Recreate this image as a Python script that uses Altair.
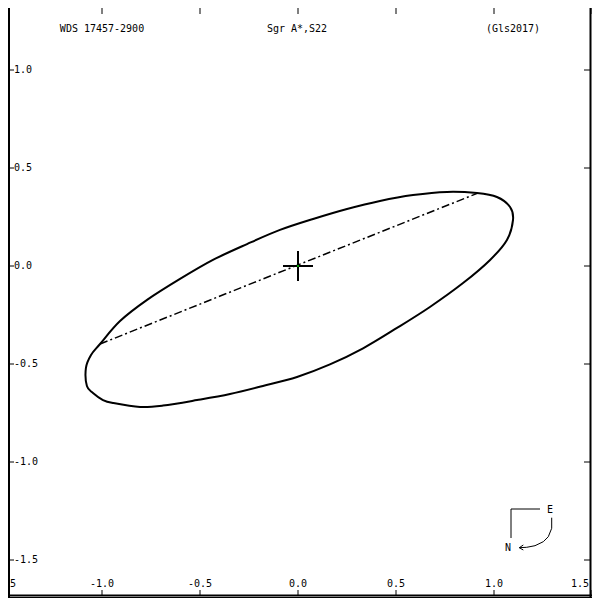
import altair as alt
import pandas as pd

# ---- data ----
orbit_x = [-1.010, -1.056, -1.082, -1.077, -1.046, -0.995, -0.944, -0.806, -0.689, -0.515,
           -0.347, -0.179, -0.005, 0.163, 0.332, 0.505, 0.673, 0.842, 0.980, 1.066,
           1.097, 1.082, 1.015, 0.913, 0.760, 0.587, 0.418, 0.250, 0.077, -0.092,
           -0.260, -0.434, -0.602, -0.770, -0.908]
orbit_y = [-0.398, -0.454, -0.520, -0.612, -0.648, -0.684, -0.699, -0.719, -0.712, -0.684,
           -0.653, -0.612, -0.566, -0.502, -0.420, -0.316, -0.209, -0.087, 0.031, 0.133,
           0.235, 0.301, 0.352, 0.372, 0.378, 0.362, 0.332, 0.291, 0.240, 0.184,
           0.112, 0.031, -0.066, -0.173, -0.281]
apsis_x = [-1.010, 0.918]
apsis_y = [-0.398, 0.372]
primary_x = [0.0]
primary_y = [0.0]
x_ticks = [-1.5, -1.0, -0.5, 0.0, 0.5, 1.0, 1.5]
x_tick_labels = ["-1.5", "-1.0", "-0.5", "0.0", "0.5", "1.0", "1.5"]
y_ticks = [-1.5, -1.0, -0.5, 0.0, 0.5, 1.0]
y_tick_labels = ["-1.5", "-1.0", "-0.5", "0.0", "0.5", "1.0"]
title_left = "WDS 17457-2900"
title_mid = "Sgr A*,S22"
title_right = "(Gls2017)"

FONT = "DejaVu Sans Mono"
W = 584
H = 590
# 196 px per arcsec, origin at page (298, 266); chart origin at page (8, 8)
xs = alt.Scale(domain=[(8 - 298) / 196, (8 + W - 298) / 196], nice=False, zero=False)
ys = alt.Scale(domain=[(266 - 8 - H) / 196, (266 - 8) / 196], nice=False, zero=False)

orbit_df = pd.DataFrame({"x": orbit_x, "y": orbit_y, "i": range(len(orbit_x))})
apsis_df = pd.DataFrame({"x": apsis_x, "y": apsis_y, "i": range(len(apsis_x))})
prim_df = pd.DataFrame({"x": primary_x, "y": primary_y})
xt_df = pd.DataFrame({"t": x_ticks, "lab": x_tick_labels})
yt_df = pd.DataFrame({"t": y_ticks, "lab": y_tick_labels})
one = pd.DataFrame({"d": [0]})

X = lambda f: alt.X(f, scale=xs, axis=None)
Y = lambda f: alt.Y(f, scale=ys, axis=None)

orbit = alt.Chart(orbit_df).mark_line(color="black", strokeWidth=2,
                                      interpolate="cardinal-closed").encode(
    x=X("x:Q"), y=Y("y:Q"), order="i:Q")
apsis = alt.Chart(apsis_df).mark_line(color="black", strokeWidth=1.5,
                                      strokeDash=[8, 3, 2, 3]).encode(
    x=X("x:Q"), y=Y("y:Q"), order="i:Q")
cross = alt.Chart(prim_df).mark_point(shape="M-1,0L1,0M0,-1L0,1", size=900,
                                      strokeWidth=2, color="black", filled=False,
                                      opacity=1).encode(x=X("x:Q"), y=Y("y:Q"))
dot = alt.Chart(prim_df).mark_point(shape="circle", size=5, color="#00c000",
                                    filled=True, opacity=1).encode(x=X("x:Q"), y=Y("y:Q"))

top_ticks = alt.Chart(xt_df).mark_rule(color="black", strokeWidth=1).encode(
    x=X("t:Q"), y=alt.value(0), y2=alt.value(6))
bot_ticks = alt.Chart(xt_df).mark_rule(color="black", strokeWidth=1).encode(
    x=X("t:Q"), y=alt.value(582), y2=alt.value(587))
x_labels = alt.Chart(xt_df).transform_filter("datum.t < 1.4").mark_text(
    font=FONT, fontSize=10, color="black", baseline="alphabetic", align="center").encode(
    x=X("t:Q"), y=alt.value(579), text="lab:N")
x_label_last = alt.Chart(xt_df).transform_filter("datum.t > 1.4").mark_text(
    font=FONT, fontSize=10, color="black", baseline="alphabetic", align="right",
    dx=-3).encode(x=X("t:Q"), y=alt.value(579), text="lab:N")
left_ticks = alt.Chart(yt_df).mark_rule(color="black", strokeWidth=1).encode(
    y=Y("t:Q"), x=alt.value(0), x2=alt.value(6))
right_ticks = alt.Chart(yt_df).mark_rule(color="black", strokeWidth=1).encode(
    y=Y("t:Q"), x=alt.value(W - 8), x2=alt.value(W - 2))
y_labels = alt.Chart(yt_df).mark_text(font=FONT, fontSize=10, color="black",
                                      baseline="middle", align="left").encode(
    y=Y("t:Q"), x=alt.value(6), text="lab:N")

frame_left = alt.Chart(one).mark_rule(color="black", strokeWidth=2).encode(
    x=alt.value(1), y=alt.value(0), y2=alt.value(H))
frame_right = alt.Chart(one).mark_rule(color="black", strokeWidth=2).encode(
    x=alt.value(W - 1.5), y=alt.value(0), y2=alt.value(H))
frame_bot1 = alt.Chart(one).mark_rule(color="black", strokeWidth=2).encode(
    y=alt.value(587.5), x=alt.value(0), x2=alt.value(W))
frame_bot2 = alt.Chart(one).mark_rule(color="black", strokeWidth=1).encode(
    y=alt.value(589.5), x=alt.value(0), x2=alt.value(W))

def label(txt, px, py):
    return alt.Chart(one).mark_text(text=txt, font=FONT, fontSize=10, color="black",
                                    align="center", baseline="middle").encode(
        x=alt.value(px), y=alt.value(py))

t1 = label(title_left, 94, 21)
t2 = label(title_mid, 289, 21)
t3 = label(title_right, 505, 21)

compass_path = ("M5,-24L-24,-24L-24,5"
                "M16.7,-15.3L16.7,-4.7L13.3,3.7L8.3,8.7L0,12.7L-8.3,14.3L-15.7,14.7"
                "M-11.7,12L-15.7,14.7L-11.7,17")
compass = alt.Chart(one).mark_point(shape=compass_path, size=4, strokeWidth=1,
                                    color="black", filled=False, opacity=1).encode(
    x=alt.value(527), y=alt.value(525))
lab_e = label("E", 542, 502)
lab_n = label("N", 500, 540)

chart = alt.layer(
    orbit, apsis, cross, dot,
    top_ticks, bot_ticks, x_labels, x_label_last, left_ticks, right_ticks, y_labels,
    frame_left, frame_right, frame_bot1, frame_bot2,
    t1, t2, t3, compass, lab_e, lab_n,
).properties(width=W, height=H, autosize="none", padding=0).configure_view(stroke=None)

chart.save("out.html", embed_options={"renderer": "svg", "actions": False})
